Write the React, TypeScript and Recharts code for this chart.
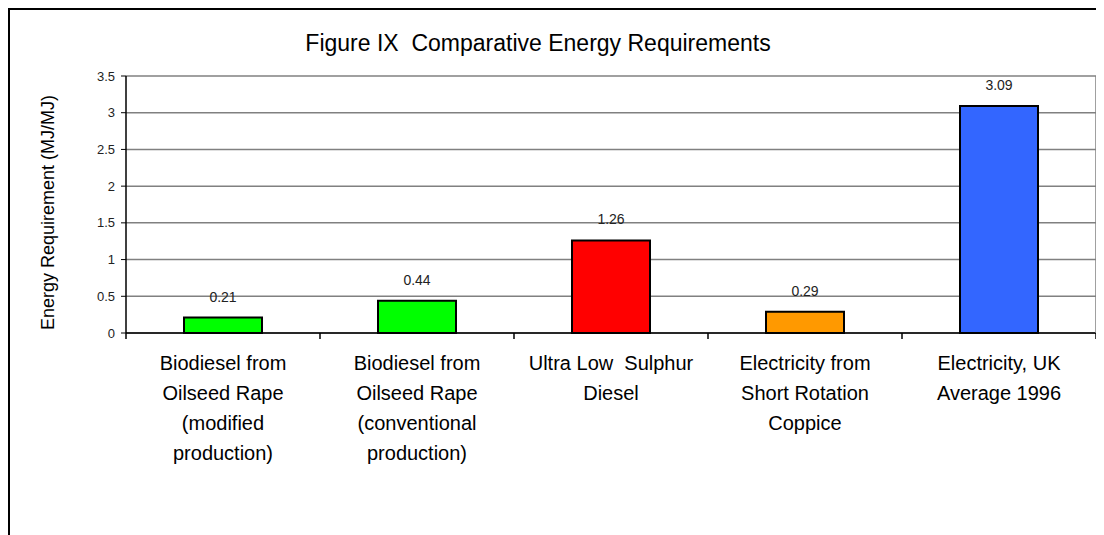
import { BarChart, Bar, Cell, XAxis, YAxis, CartesianGrid, LabelList } from 'recharts';

const CATEGORIES = [
  'Biodiesel from Oilseed Rape (modified production)',
  'Biodiesel from Oilseed Rape (conventional production)',
  'Ultra Low Sulphur Diesel',
  'Electricity from Short Rotation Coppice',
  'Electricity, UK Average 1996',
];

const TICK_LINES = [
  ['Biodiesel from', 'Oilseed Rape', '(modified', 'production)'],
  ['Biodiesel from', 'Oilseed Rape', '(conventional', 'production)'],
  ['Ultra Low  Sulphur', 'Diesel'],
  ['Electricity from', 'Short Rotation', 'Coppice'],
  ['Electricity, UK', 'Average 1996'],
];

const VALUES = [0.21, 0.44, 1.26, 0.29, 3.09];
const BAR_COLORS = ['#00FF00', '#00FF00', '#FF0000', '#FF9900', '#3366FF'];
const Y_TICKS = [0, 0.5, 1, 1.5, 2, 2.5, 3, 3.5];

const TITLE = 'Figure IX  Comparative Energy Requirements';
const Y_LABEL = 'Energy Requirement (MJ/MJ)';

const FONT = 'Arial, "Liberation Sans", sans-serif';

const data = CATEGORIES.map((name, i) => ({ name, value: VALUES[i], idx: i }));

function CategoryTick(props: any) {
  const { x, y, payload, index } = props;
  const half = payload && payload.offset ? payload.offset : 97;
  const lines = TICK_LINES[index] || [String(payload.value)];
  const last = index === CATEGORIES.length - 1;
  return (
    <g>
      <line x1={x - half} x2={x - half} y1={y} y2={y + 6} stroke="#000" strokeWidth={1.5} />
      {last && <line x1={x + half} x2={x + half} y1={y} y2={y + 6} stroke="#000" strokeWidth={1.5} />}
      {lines.map((ln: string, k: number) => (
        <text
          key={k}
          x={x}
          y={y + 37 + k * 30}
          textAnchor="middle"
          fontSize={20}
          fontFamily={FONT}
          fill="#000"
          style={{ whiteSpace: 'pre' }}
        >
          {ln}
        </text>
      ))}
    </g>
  );
}

export default function App() {
  return (
    <div style={{ position: 'relative', width: 1092, height: 527, fontFamily: FONT }}>
      <div
        style={{
          position: 'absolute',
          left: 0,
          top: 0,
          right: 0,
          bottom: 0,
          borderTop: '2px solid #000',
          borderLeft: '2px solid #000',
          pointerEvents: 'none',
        }}
      />
      <div
        style={{
          position: 'absolute',
          left: 0,
          width: 1060,
          top: 22,
          textAlign: 'center',
          fontSize: 23,
          whiteSpace: 'pre',
          color: '#000',
        }}
      >
        {TITLE}
      </div>
      <BarChart
        width={1096}
        height={527}
        data={data}
        margin={{ top: 68, right: 7, left: 0, bottom: 0 }}
      >
        <CartesianGrid vertical={false} stroke="#808080" strokeWidth={1.5} />
        <XAxis
          dataKey="name"
          height={202}
          interval={0}
          tickLine={false}
          tickSize={0}
          tickMargin={0}
          tick={<CategoryTick />}
          axisLine={{ stroke: '#000', strokeWidth: 1.5 }}
        />
        <YAxis
          width={118}
          domain={[0, 3.5]}
          ticks={Y_TICKS}
          interval={0}
          tickSize={5}
          tickMargin={6}
          tickLine={{ stroke: '#000' }}
          axisLine={{ stroke: '#000', strokeWidth: 1.5 }}
          tick={{ fill: '#222', fontSize: 13, fontFamily: FONT }}
          label={{
            value: Y_LABEL,
            angle: -90,
            position: 'insideLeft',
            offset: 40,
            dy: 8,
            style: { textAnchor: 'middle', fontSize: 18, fontFamily: FONT, fill: '#000' },
          }}
        />
        <YAxis
          yAxisId="frame"
          orientation="right"
          width={1}
          domain={[0, 3.5]}
          tick={false}
          tickLine={false}
          axisLine={{ stroke: '#808080', strokeWidth: 1.5 }}
        />
        <Bar dataKey="value" barSize={78} stroke="#000" strokeWidth={2} isAnimationActive={false}>
          {data.map((d) => (
            <Cell key={d.idx} fill={BAR_COLORS[d.idx]} />
          ))}
          <LabelList
            dataKey="value"
            position="top"
            offset={16}
            fontSize={14}
            fontFamily={FONT}
            fill="#222"
          />
        </Bar>
      </BarChart>
    </div>
  );
}
